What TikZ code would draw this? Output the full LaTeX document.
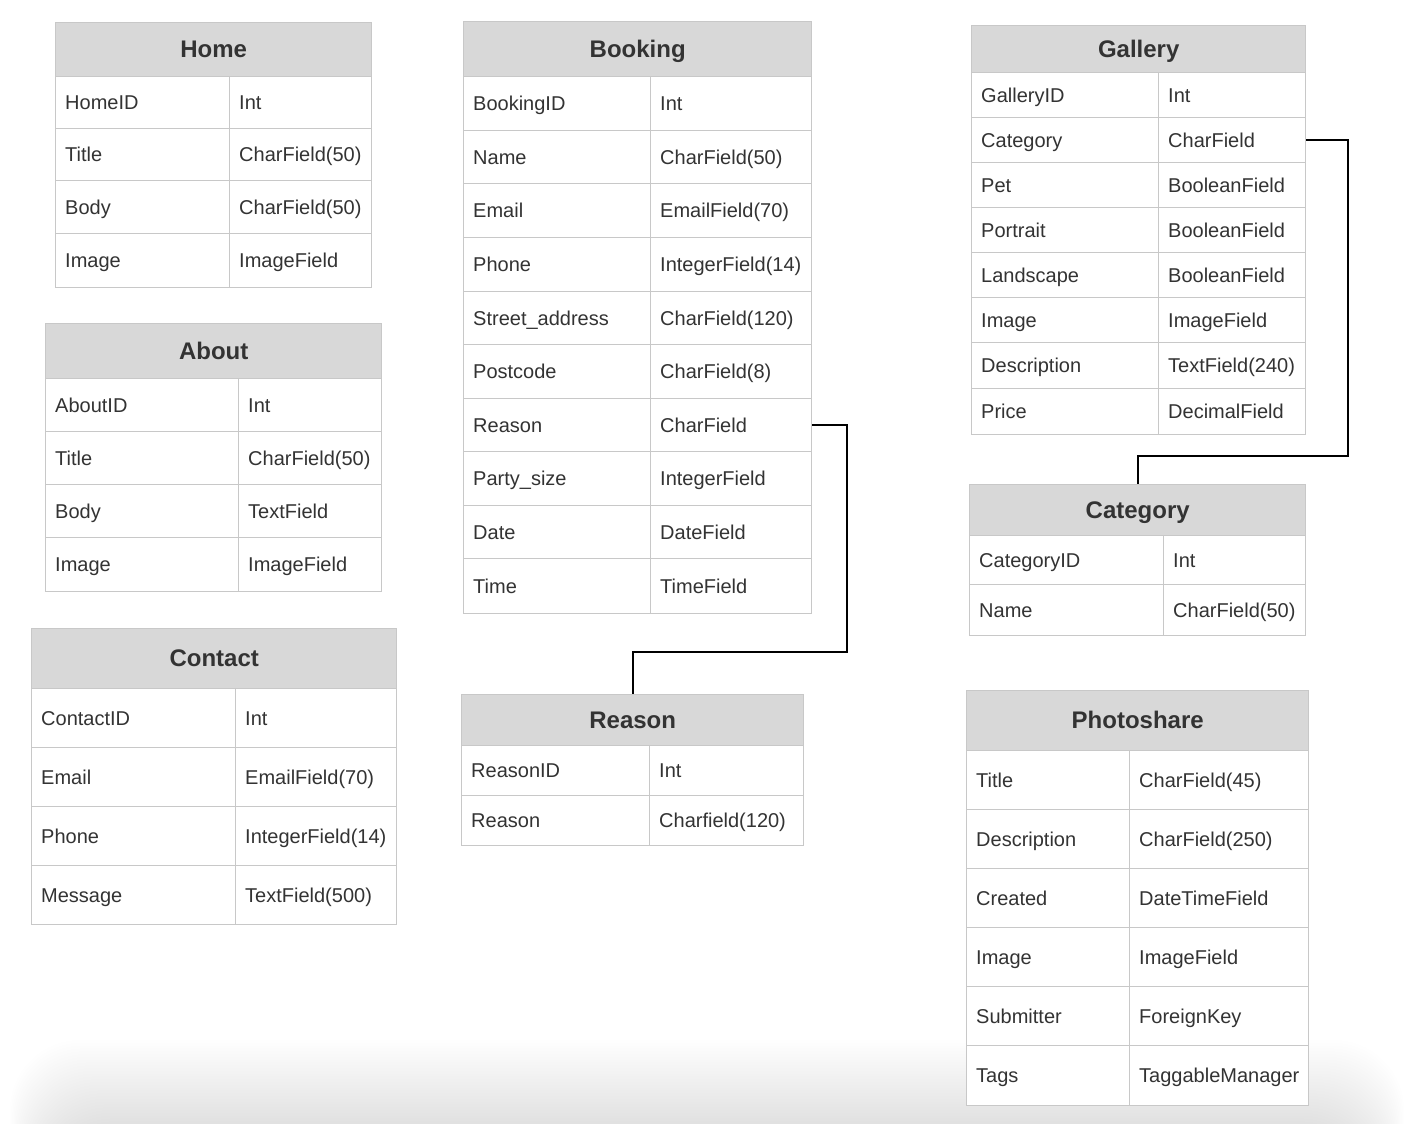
\documentclass[tikz,border=0pt]{standalone}
\usepackage{fontspec}
\setmainfont{Liberation Sans}
\definecolor{bordc}{RGB}{200,200,200}
\definecolor{hdrc}{RGB}{216,216,216}
\definecolor{txtc}{RGB}{51,51,51}
\tikzset{
 cellbox/.style={draw=bordc, line width=1.4pt, fill=white, inner sep=0pt, anchor=north west},
 hdrbox/.style={draw=bordc, line width=1.4pt, fill=hdrc, inner sep=0pt, anchor=north west,
   font=\fontsize{24}{28}\selectfont\bfseries, text=txtc, text height=21pt, text depth=5pt},
 celltxt/.style={anchor=west, inner sep=0pt, font=\fontsize{20}{24}\selectfont, text=txtc,
   text height=18.5pt, text depth=4.5pt},
 conn/.style={draw=black, line width=1.8pt, line join=miter}
}
% name, x0, x1, ytop, ybot, title
\newcommand{\tbhead}[6]{%
 \pgfmathsetmacro\tbw{#3-#2}\pgfmathsetmacro\tbh{#5-#4}%
 \node[hdrbox, minimum width=\tbw pt, minimum height=\tbh pt] (#1) at (#2,#4) {#6};}
% name, x0, xd, x1, ytop, ybot, left, right
\newcommand{\tbrow}[8]{%
 \pgfmathsetmacro\tbwa{#3-#2}\pgfmathsetmacro\tbwb{#4-#3}\pgfmathsetmacro\tbh{#6-#5}%
 \node[cellbox, minimum width=\tbwa pt, minimum height=\tbh pt] (#1-l) at (#2,#5) {};
 \node[cellbox, minimum width=\tbwb pt, minimum height=\tbh pt] (#1-r) at (#3,#5) {};
 \node[celltxt] (#1-lt) at ([xshift=10pt]#1-l.west) {#7};
 \node[celltxt] (#1-rt) at ([xshift=10pt]#1-r.west) {#8};}
\begin{document}
\begin{tikzpicture}[x=1pt,y=-1pt]
\useasboundingbox (0,0) rectangle (1414,1124);
\fill[white] (0,0) rectangle (1414,1124);
% soft bottom shadow of the screenshot
\foreach \i in {0,...,29}
  \fill[black, opacity=0.0045, rounded corners=70pt] (10+\i*1.2,1040+\i*2.8) rectangle (1404-\i*1.2,1260);

% Home
\tbhead{home}{55}{371}{22}{76}{Home}
\tbrow{home1}{55}{229}{371}{76}{128}{HomeID}{Int}
\tbrow{home2}{55}{229}{371}{128}{180}{Title}{CharField(50)}
\tbrow{home3}{55}{229}{371}{180}{233}{Body}{CharField(50)}
\tbrow{home4}{55}{229}{371}{233}{287}{Image}{ImageField}

% About
\tbhead{about}{45}{381}{323}{378}{About}
\tbrow{about1}{45}{238}{381}{378}{431}{AboutID}{Int}
\tbrow{about2}{45}{238}{381}{431}{484}{Title}{CharField(50)}
\tbrow{about3}{45}{238}{381}{484}{537}{Body}{TextField}
\tbrow{about4}{45}{238}{381}{537}{591}{Image}{ImageField}

% Contact
\tbhead{contact}{31}{396}{628}{688}{Contact}
\tbrow{contact1}{31}{235}{396}{688}{747}{ContactID}{Int}
\tbrow{contact2}{31}{235}{396}{747}{806}{Email}{EmailField(70)}
\tbrow{contact3}{31}{235}{396}{806}{865}{Phone}{IntegerField(14)}
\tbrow{contact4}{31}{235}{396}{865}{924}{Message}{TextField(500)}

% Booking
\tbhead{booking}{463}{811}{21}{76}{Booking}
\tbrow{booking1}{463}{650}{811}{76}{130}{BookingID}{Int}
\tbrow{booking2}{463}{650}{811}{130}{183}{Name}{CharField(50)}
\tbrow{booking3}{463}{650}{811}{183}{237}{Email}{EmailField(70)}
\tbrow{booking4}{463}{650}{811}{237}{291}{Phone}{IntegerField(14)}
\tbrow{booking5}{463}{650}{811}{291}{344}{Street\_address}{CharField(120)}
\tbrow{booking6}{463}{650}{811}{344}{398}{Postcode}{CharField(8)}
\tbrow{booking7}{463}{650}{811}{398}{451}{Reason}{CharField}
\tbrow{booking8}{463}{650}{811}{451}{505}{Party\_size}{IntegerField}
\tbrow{booking9}{463}{650}{811}{505}{558}{Date}{DateField}
\tbrow{booking10}{463}{650}{811}{558}{613}{Time}{TimeField}

% Reason
\tbhead{reason}{461}{803}{694}{745}{Reason}
\tbrow{reason1}{461}{649}{803}{745}{795}{ReasonID}{Int}
\tbrow{reason2}{461}{649}{803}{795}{845}{Reason}{Charfield(120)}

% Gallery
\tbhead{gallery}{971}{1305}{25}{72}{Gallery}
\tbrow{gallery1}{971}{1158}{1305}{72}{117}{GalleryID}{Int}
\tbrow{gallery2}{971}{1158}{1305}{117}{162}{Category}{CharField}
\tbrow{gallery3}{971}{1158}{1305}{162}{207}{Pet}{BooleanField}
\tbrow{gallery4}{971}{1158}{1305}{207}{252}{Portrait}{BooleanField}
\tbrow{gallery5}{971}{1158}{1305}{252}{297}{Landscape}{BooleanField}
\tbrow{gallery6}{971}{1158}{1305}{297}{342}{Image}{ImageField}
\tbrow{gallery7}{971}{1158}{1305}{342}{388}{Description}{TextField(240)}
\tbrow{gallery8}{971}{1158}{1305}{388}{434}{Price}{DecimalField}

% Category
\tbhead{category}{969}{1305}{484}{535}{Category}
\tbrow{category1}{969}{1163}{1305}{535}{584}{CategoryID}{Int}
\tbrow{category2}{969}{1163}{1305}{584}{635}{Name}{CharField(50)}

% Photoshare
\tbhead{photoshare}{966}{1308}{690}{750}{Photoshare}
\tbrow{photo1}{966}{1129}{1308}{750}{809}{Title}{CharField(45)}
\tbrow{photo2}{966}{1129}{1308}{809}{868}{Description}{CharField(250)}
\tbrow{photo3}{966}{1129}{1308}{868}{927}{Created}{DateTimeField}
\tbrow{photo4}{966}{1129}{1308}{927}{986}{Image}{ImageField}
\tbrow{photo5}{966}{1129}{1308}{986}{1045}{Submitter}{ForeignKey}
\tbrow{photo6}{966}{1129}{1308}{1045}{1105}{Tags}{TaggableManager}

% Connectors
\coordinate (jr) at (847,652);
\coordinate (jc) at (1348,456);
\draw[conn] (booking7-r.east) -| (jr) -| (reason.north);
\draw[conn] (gallery2-r.east) -| (jc) -| (category.north);
\end{tikzpicture}
\end{document}
